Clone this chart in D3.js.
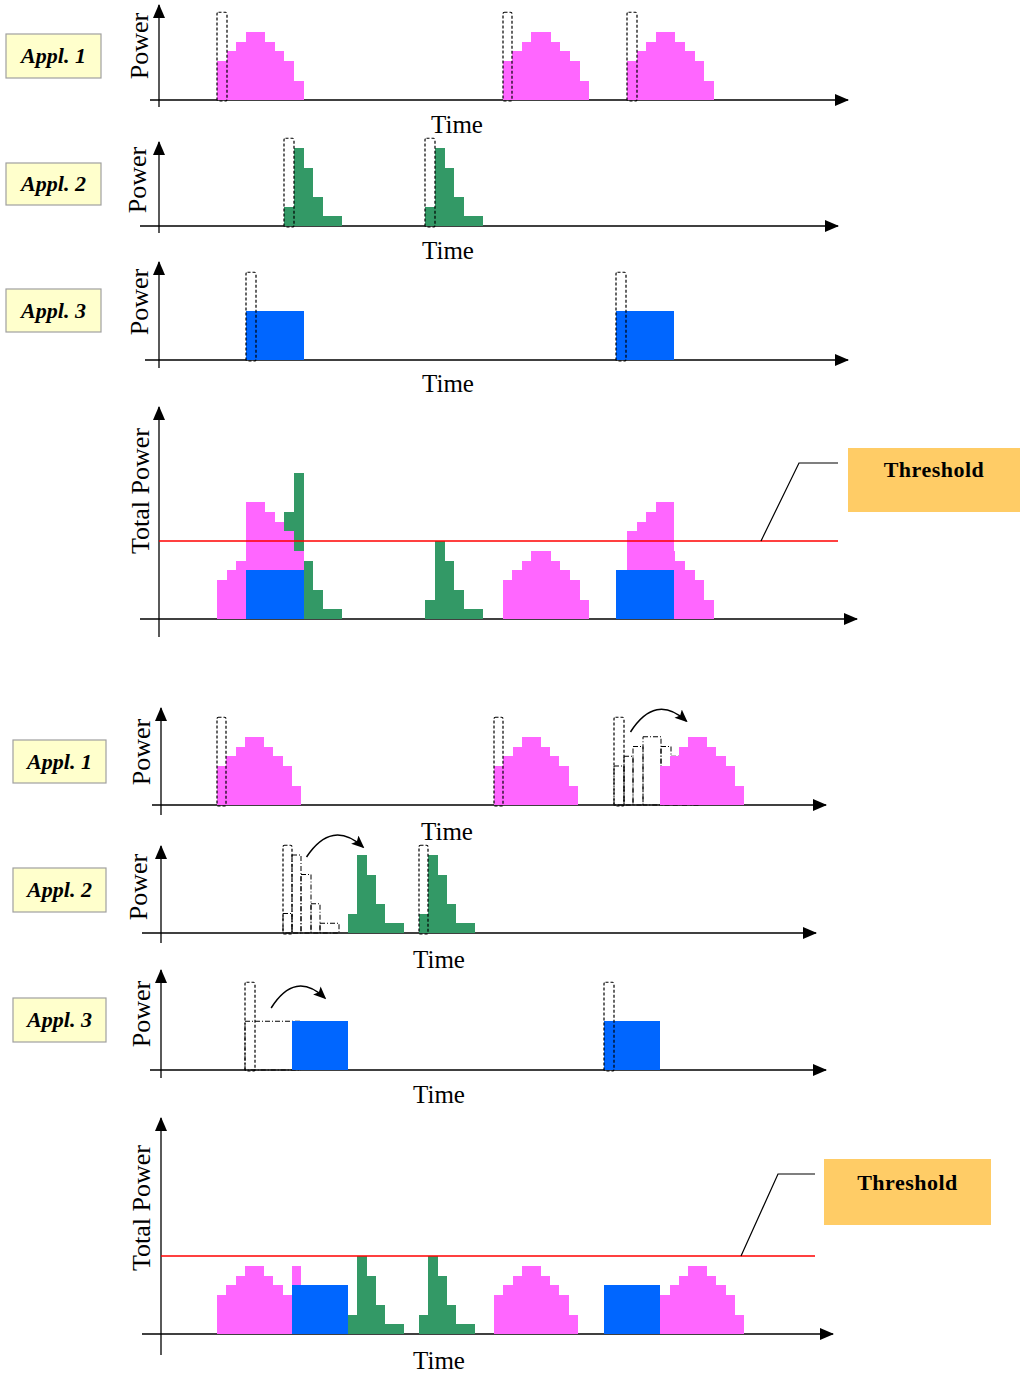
<!DOCTYPE html>
<html>
<head>
<meta charset="utf-8">
<script src="https://cdn.jsdelivr.net/npm/d3@7"></script>
<style>
body { margin: 0; background: #fff; }
svg text { font-family: "Liberation Serif", "Times New Roman", serif; }
</style>
</head>
<body>
<div id="canvas"></div>
<script>
// power per time slot for each appliance
var appl1Steps = [4, 5, 6, 7, 7, 6, 5, 4, 2];
var appl2Steps = [2, 8, 6, 3, 1, 1];
var appl3Steps = [5, 5, 5, 5, 5, 5];
var startupPeak = 9;
var threshold = 8;

// start times before scheduling
var appl1Start = [6, 35.6, 48.5];
var appl2Start = [13, 27.6];
var appl3Start = [9, 47.4];

// start times after scheduling
var appl1Moved = [6, 35.6, 53.4];
var appl2Moved = [20, 27.6];
var appl3Moved = [14, 47.4];

var applNames = ['Appl. 1', 'Appl. 2', 'Appl. 3'];
var colors = ['#ff66ff', '#339966', '#0066ff'];
var layerKeys = ['blue', 'pink', 'green'];

var topX = d3.scaleLinear().domain([0, 70]).range([159, 159 + 70 * 9.65]);
var botX = d3.scaleLinear().domain([0, 70]).range([161, 161 + 70 * 9.35]);

var canvas = d3.select('#canvas').append('svg')
    .attr('width', 1024)
    .attr('height', 1374);

var defs = canvas.append('defs');
defs.append('marker')
    .attr('id', 'head')
    .attr('viewBox', '0 0 14 12')
    .attr('markerUnits', 'userSpaceOnUse')
    .attr('markerWidth', 14).attr('markerHeight', 12)
    .attr('refX', 13).attr('refY', 6)
    .attr('orient', 'auto')
    .append('path').attr('d', 'M0,0L14,6L0,12Z').attr('fill', '#000');
defs.append('marker')
    .attr('id', 'curveHead')
    .attr('viewBox', '0 0 14 12')
    .attr('markerUnits', 'userSpaceOnUse')
    .attr('markerWidth', 13).attr('markerHeight', 11)
    .attr('refX', 12).attr('refY', 6)
    .attr('orient', 'auto')
    .append('path').attr('d', 'M0,0L14,6L0,12L3,6Z').attr('fill', '#000');

// merge equal neighbouring slots into runs
function runs(steps, start) {
    var out = [];
    steps.forEach(function(v, i) {
        var last = out[out.length - 1];
        if (last && last.v === v) {
            last.t1 = start + i + 1;
        } else {
            out.push({t0: start + i, t1: start + i + 1, v: v});
        }
    });
    return out;
}

function allRuns(steps, starts) {
    var out = [];
    starts.forEach(function(s) { out = out.concat(runs(steps, s)); });
    return out;
}

function valueAt(segs, t) {
    for (var i = 0; i < segs.length; i++) {
        if (t >= segs[i].t0 && t < segs[i].t1) return segs[i].v;
    }
    return 0;
}

// table of total power, one row per interval between breakpoints
function totalRows(layers) {
    var ts = [];
    layerKeys.forEach(function(k) {
        layers[k].forEach(function(s) { ts.push(s.t0, s.t1); });
    });
    ts = Array.from(new Set(ts.map(function(t) { return +t.toFixed(3); }))).sort(d3.ascending);
    var rows = [];
    for (var i = 0; i < ts.length - 1; i++) {
        var row = {t0: ts[i], t1: ts[i + 1]};
        var mid = (ts[i] + ts[i + 1]) / 2;
        layerKeys.forEach(function(k) { row[k] = valueAt(layers[k], mid); });
        rows.push(row);
    }
    return rows;
}

function yScale(p) {
    return d3.scaleLinear().domain([0, 10]).range([p.base, p.base - 97.5]);
}

function px(x, t) { return Math.round(x(t)); }

function drawFrame(p) {
    var g = canvas.append('g');
    g.append('line')
        .attr('x1', p.axL).attr('x2', p.axR)
        .attr('y1', p.base).attr('y2', p.base)
        .attr('stroke', '#000').attr('stroke-width', 1.3)
        .attr('marker-end', 'url(#head)');
    g.append('line')
        .attr('x1', p.x(0)).attr('x2', p.x(0))
        .attr('y1', p.yBot).attr('y2', p.yTop)
        .attr('stroke', '#000').attr('stroke-width', 1.3)
        .attr('marker-end', 'url(#head)');
    g.append('text')
        .attr('transform', 'translate(' + p.ylab[0] + ',' + p.ylab[1] + ') rotate(-90)')
        .attr('text-anchor', 'middle')
        .attr('font-size', '26px')
        .text(p.ylabText);
    if (p.time) {
        g.append('text')
            .attr('x', p.time[0]).attr('y', p.time[1])
            .attr('text-anchor', 'middle')
            .attr('font-size', '25px')
            .text('Time');
    }
    if (p.box) {
        g.append('rect')
            .attr('x', p.box[0]).attr('y', p.box[1])
            .attr('width', p.box[2]).attr('height', p.box[3])
            .attr('fill', '#ffffcc').attr('stroke', '#a0a0a0').attr('stroke-width', 1.2);
        g.append('text')
            .attr('x', p.box[0] + p.box[2] / 2).attr('y', p.box[1] + p.box[3] / 2 + 7)
            .attr('text-anchor', 'middle')
            .attr('font-size', '22px')
            .attr('font-weight', 'bold').attr('font-style', 'italic')
            .text(p.name);
    }
    return g;
}

function drawAppl(p, steps, starts, moved, color) {
    var g = drawFrame(p);
    var y = yScale(p);
    var x = p.x;
    var ghosts = [], solid = [], boxes = [];
    starts.forEach(function(s, i) {
        var now = moved ? moved[i] : s;
        if (now !== s) ghosts = ghosts.concat(runs(steps, s));
        solid = solid.concat(runs(steps, now));
        boxes.push(s);
    });

    g.selectAll('.ghost')
        .data(ghosts)
        .enter()
        .append('rect')
        .attr('x', function(d) { return px(x, d.t0); })
        .attr('y', function(d) { return y(d.v); })
        .attr('width', function(d) { return px(x, d.t1) - px(x, d.t0); })
        .attr('height', function(d) { return p.base - y(d.v); })
        .attr('fill', 'none')
        .attr('stroke', '#000').attr('stroke-width', 1)
        .attr('stroke-dasharray', '5,2,1,2');

    g.selectAll('.run')
        .data(solid)
        .enter()
        .append('rect')
        .attr('x', function(d) { return px(x, d.t0); })
        .attr('y', function(d) { return y(d.v); })
        .attr('width', function(d) { return px(x, d.t1) - px(x, d.t0); })
        .attr('height', function(d) { return p.base - y(d.v); })
        .attr('fill', color)
        .attr('shape-rendering', 'crispEdges');

    // start-up spike outline
    g.selectAll('.spike')
        .data(boxes)
        .enter()
        .append('rect')
        .attr('x', function(d) { return px(x, d); })
        .attr('y', y(startupPeak))
        .attr('width', function(d) { return px(x, d + 1) - px(x, d); })
        .attr('height', p.base - y(startupPeak) + 1)
        .attr('rx', 1.5)
        .attr('fill', 'none')
        .attr('stroke', '#000').attr('stroke-width', 1.2)
        .attr('stroke-dasharray', '3,2');

    if (p.arrow) {
        var a = p.arrow;
        var x0 = x(a.from) + a.dx[0], x1 = x(a.to) + a.dx[1];
        var path = d3.path();
        path.moveTo(x0, a.y[0]);
        path.quadraticCurveTo((x0 + x1) / 2 - 3, Math.min(a.y[0], a.y[1]) - 28, x1, a.y[1]);
        g.append('path')
            .attr('d', path.toString())
            .attr('fill', 'none')
            .attr('stroke', '#000').attr('stroke-width', 1.5)
            .attr('marker-end', 'url(#curveHead)');
    }
}

function drawTotal(p, starts) {
    var g = drawFrame(p);
    var y = yScale(p);
    var x = p.x;
    var layers = {
        pink: allRuns(appl1Steps, starts[0]),
        green: allRuns(appl2Steps, starts[1]),
        blue: allRuns(appl3Steps, starts[2])
    };
    var rows = totalRows(layers);
    var stack = d3.stack().keys(layerKeys)(rows);
    var fill = {blue: colors[2], pink: colors[0], green: colors[1]};

    var series = g.selectAll('.layer')
        .data(stack)
        .enter()
        .append('g')
        .attr('fill', function(d) { return fill[d.key]; });

    series.selectAll('rect')
        .data(function(d) { return d.filter(function(e) { return e[1] > e[0]; }); })
        .enter()
        .append('rect')
        .attr('x', function(d) { return px(x, d.data.t0); })
        .attr('y', function(d) { return Math.round(y(d[1])); })
        .attr('width', function(d) { return px(x, d.data.t1) - px(x, d.data.t0); })
        .attr('height', function(d) { return Math.round(y(d[0])) - Math.round(y(d[1])); })
        .attr('shape-rendering', 'crispEdges');

    g.append('line')
        .attr('x1', x(0)).attr('x2', p.thrEnd)
        .attr('y1', y(threshold)).attr('y2', y(threshold))
        .attr('stroke', '#ff0000').attr('stroke-width', 1.3);

    var c = p.callout;
    g.append('path')
        .attr('d', d3.line()([[c.lead[0], y(threshold)], [c.lead[1], c.lead[2]], [p.thrEnd, c.lead[2]]]))
        .attr('fill', 'none')
        .attr('stroke', '#000').attr('stroke-width', 1.2);
    g.append('rect')
        .attr('x', c.box[0]).attr('y', c.box[1])
        .attr('width', c.box[2]).attr('height', c.box[3])
        .attr('fill', '#ffcc66');
    g.append('text')
        .attr('x', c.box[0] + c.box[2] / 2).attr('y', c.textY)
        .attr('text-anchor', 'middle')
        .attr('font-size', '22px').attr('font-weight', 'bold')
        .attr('letter-spacing', '0.5px')
        .text('Threshold');
}

// before scheduling
drawAppl({x: topX, base: 100, yTop: 5, yBot: 107, axL: 150, axR: 848, name: applNames[0],
    box: [6, 34, 95, 44], ylabText: 'Power', ylab: [148, 46], time: [457, 133]},
    appl1Steps, appl1Start, null, colors[0]);
drawAppl({x: topX, base: 226, yTop: 142, yBot: 233, axL: 140, axR: 838, name: applNames[1],
    box: [6, 163, 95, 42], ylabText: 'Power', ylab: [146, 180], time: [448, 259]},
    appl2Steps, appl2Start, null, colors[1]);
drawAppl({x: topX, base: 360, yTop: 262, yBot: 368, axL: 145, axR: 848, name: applNames[2],
    box: [6, 289, 95, 43], ylabText: 'Power', ylab: [148, 302], time: [448, 392]},
    appl3Steps, appl3Start, null, colors[2]);
drawTotal({x: topX, base: 619, yTop: 407, yBot: 637, axL: 140, axR: 857,
    ylabText: 'Total Power', ylab: [149, 491], thrEnd: 838,
    callout: {box: [848, 448, 172, 64], textY: 477, lead: [761, 799, 463]}},
    [appl1Start, appl2Start, appl3Start]);

// after scheduling
drawAppl({x: botX, base: 805, yTop: 708, yBot: 815, axL: 152, axR: 826, name: applNames[0],
    box: [13, 740, 93, 43], ylabText: 'Power', ylab: [150, 752], time: [447, 840],
    arrow: {from: 48.5, to: 53.4, dx: [16, 26], y: [732, 721]}},
    appl1Steps, appl1Start, appl1Moved, colors[0]);
drawAppl({x: botX, base: 933, yTop: 846, yBot: 943, axL: 142, axR: 816, name: applNames[1],
    box: [13, 868, 93, 44], ylabText: 'Power', ylab: [147, 887], time: [439, 968],
    arrow: {from: 13, to: 20, dx: [24, 15], y: [857, 847]}},
    appl2Steps, appl2Start, appl2Moved, colors[1]);
drawAppl({x: botX, base: 1070, yTop: 970, yBot: 1078, axL: 150, axR: 826, name: applNames[2],
    box: [13, 998, 93, 44], ylabText: 'Power', ylab: [150, 1014], time: [439, 1103],
    arrow: {from: 9, to: 14, dx: [26, 33], y: [1008, 998]}},
    appl3Steps, appl3Start, appl3Moved, colors[2]);
drawTotal({x: botX, base: 1334, yTop: 1118, yBot: 1355, axL: 142, axR: 833,
    ylabText: 'Total Power', ylab: [150, 1208], time: [439, 1369], thrEnd: 815,
    callout: {box: [824, 1159, 167, 66], textY: 1190, lead: [741, 778, 1174]}},
    [appl1Moved, appl2Moved, appl3Moved]);
</script>
</body>
</html>
